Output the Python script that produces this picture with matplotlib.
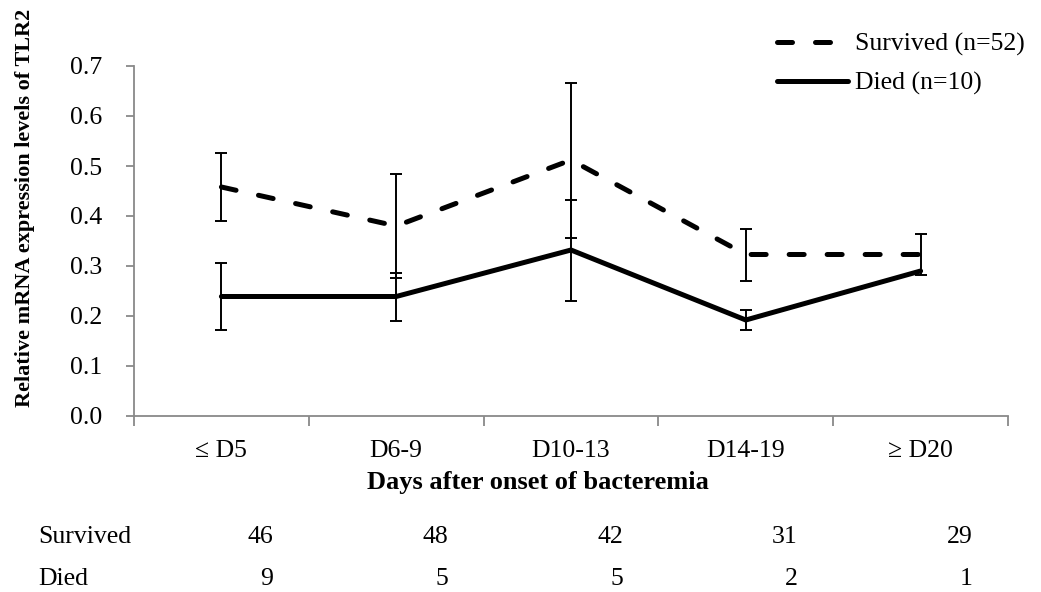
import numpy as np
import matplotlib.pyplot as plt

# values
categories = ["≤ D5", "D6-9", "D10-13", "D14-19", "≥ D20"]
survived_mean = [0.458, 0.380, 0.512, 0.323, 0.323]
survived_err = [0.068, 0.104, 0.155, 0.052, 0.041]
died_mean = [0.239, 0.239, 0.332, 0.192, 0.290]
died_err = [0.067, 0.048, 0.101, 0.020, 0.0]
survived_n = [46, 48, 42, 31, 29]
died_n = [9, 5, 5, 2, 1]

plt.rcParams['font.family'] = ['Liberation Serif', 'DejaVu Serif']

W, H = 1041, 592
fig = plt.figure(figsize=(W / 100, H / 100), dpi=100)
ax = fig.add_axes([134 / W, 1 - 416 / H, 874 / W, 350 / H])

x = np.arange(len(categories))
grey = '#898989'
fs = 18.5

ax.plot(x, survived_mean, color='black', lw=3.6, ls=(0, (3.0, 4.6)),
        dash_capstyle='round', solid_joinstyle='round', label='Survived (n=52)')
ax.plot(x, died_mean, color='black', lw=3.6, solid_capstyle='round',
        solid_joinstyle='round', label='Died (n=10)')

# error bars on top of the lines
ax.errorbar(x, survived_mean, yerr=survived_err, fmt='none', ecolor='black',
            elinewidth=1.4, capsize=4, capthick=1.4, zorder=4)
ax.errorbar(x[:4], died_mean[:4], yerr=died_err[:4], fmt='none', ecolor='black',
            elinewidth=1.4, capsize=4, capthick=1.4, zorder=4)

ax.set_xlim(-0.5, len(categories) - 0.5)
ax.set_ylim(0, 0.7)
yticks = np.arange(0, 0.71, 0.1)
ax.set_yticks(yticks)
ax.set_yticklabels([f"{v:.1f}" for v in yticks], fontsize=fs)

# category boundaries as tick marks, labels in between
ax.set_xticks(np.arange(-0.5, len(categories), 1.0))
ax.set_xticklabels([])
ax.set_xticks(x, minor=True)
ax.set_xticklabels(categories, minor=True, fontsize=fs)
ax.tick_params(axis='x', which='minor', length=0, pad=17)
ax.tick_params(axis='x', which='major', direction='out', length=7, color=grey, width=1.3)
ax.tick_params(axis='y', direction='out', length=6, color=grey, width=1.3, pad=17)

for side in ['top', 'right']:
    ax.spines[side].set_visible(False)
for side in ['left', 'bottom']:
    ax.spines[side].set_color(grey)
    ax.spines[side].set_linewidth(1.3)

# axis titles
fig.text(538 / W, 1 - 483 / H, "Days after onset of bacteremia", ha='center', va='center',
         fontsize=19, fontweight='bold')
fig.text(25 / W, 1 - 208 / H, "Relative mRNA expression levels of TLR2", ha='center',
         va='center', rotation=90, fontsize=16, fontweight='bold')

# legend
ax.legend(loc='upper left', bbox_to_anchor=(777 / W, 1 - 33 / H),
          bbox_transform=fig.transFigure, frameon=False, fontsize=fs,
          handlelength=2.77, handletextpad=0.27, labelspacing=0.6,
          borderpad=0, borderaxespad=0)

# number of patients under the axis
row_y = [1 - 537 / H, 1 - 579 / H]
cat_w = 874 / len(categories)
for label, counts, ry in [("Survived", survived_n, row_y[0]), ("Died", died_n, row_y[1])]:
    fig.text(38 / W, ry, label, ha='left', va='center', fontsize=fs)
    for xi, n in zip(x, counts):
        fig.text((134 + (xi + 0.5) * cat_w + 52) / W, ry, str(n), ha='right',
                 va='center', fontsize=fs)

fig.savefig('out.png', dpi=100)
